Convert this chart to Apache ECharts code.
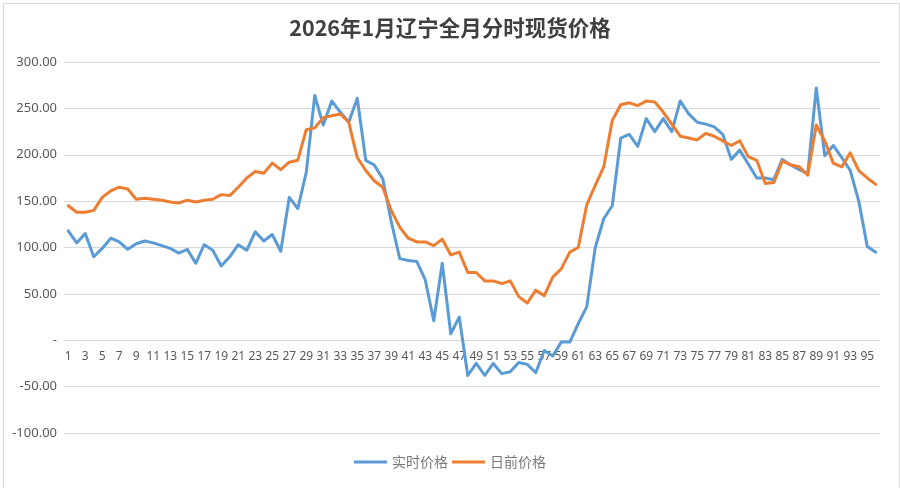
<!DOCTYPE html>
<html>
<head>
<meta charset="utf-8">
<script src="https://cdn.jsdelivr.net/npm/echarts@6/dist/echarts.min.js"></script>
<style>
html,body{margin:0;padding:0;background:#fff;}
#c{width:900px;height:488px;}
</style>
</head>
<body>
<div id="c"></div>
<script>
const titleText = '2026年1月辽宁全月分时现货价格';
const seriesNames = ['实时价格', '日前价格'];
const categories = Array.from({length: 96}, (_, i) => String(i + 1));
const realtimePrice = [
  118, 105, 115, 90, 99, 110, 106, 98, 104, 107,
  105, 102, 99, 94, 98, 83, 103, 97, 80, 90,
  103, 97, 117, 107, 114, 96, 154, 142, 181, 264,
  232, 258, 246, 235, 261, 194, 189, 174, 128, 88,
  86, 85, 65, 21, 83, 7, 25, -38, -25, -38,
  -25, -36, -34, -24, -26, -35, -11, -17, -2, -2,
  18, 36, 100, 131, 145, 218, 222, 209, 239, 225,
  239, 225, 258, 244, 235, 233, 230, 222, 195, 205,
  190, 175, 175, 173, 195, 189, 184, 180, 272, 199,
  210, 197, 183, 150, 101, 95
];
const dayAheadPrice = [
  145, 138, 138, 140, 154, 161, 165, 163, 152, 153,
  152, 151, 149, 148, 151, 149, 151, 152, 157, 156,
  165, 175, 182, 180, 191, 184, 192, 194, 227, 229,
  240, 242, 244, 235, 197, 183, 172, 165, 140, 122,
  110, 106, 106, 102, 109, 92, 95, 73, 73, 64,
  64, 61, 64, 47, 40, 54, 48, 68, 77, 95,
  100, 146, 167, 187, 237, 254, 256, 253, 258, 257,
  246, 233, 220, 218, 216, 223, 220, 215, 210, 215,
  198, 194, 169, 170, 193, 189, 187, 178, 232, 215,
  191, 187, 202, 183, 175, 168
];
const yMin = -100, yMax = 300, yStep = 50;

const gridTop = 62, gridBottom = 55, chartH = 488;
const plotH = chartH - gridTop - gridBottom;
// place the category axis on the zero line (like the reference)
const zeroOffset = -plotH * (0 - yMin) / (yMax - yMin);

const chart = echarts.init(document.getElementById('c'), null, {renderer: 'canvas'});
const fontBase = '"Noto Sans", "Noto Sans CJK SC", sans-serif';
chart.setOption({
  animation: false,
  backgroundColor: '#ffffff',
  graphic: [{
    type: 'rect', left: 1, top: 1,
    shape: {x: 0, y: 0, width: 896, height: 485},
    style: {fill: 'none', stroke: '#d9d9d9', lineWidth: 1},
    silent: true, z: -10
  }],
  title: {
    text: titleText,
    left: 'center',
    top: 12,
    textStyle: {
      fontFamily: '"Noto Sans CJK SC", "Noto Sans", sans-serif',
      fontSize: 21.5,
      fontWeight: 'bold',
      color: '#404040'
    }
  },
  legend: {
    data: seriesNames,
    bottom: 14,
    left: 'center',
    icon: 'rect',
    itemWidth: 33,
    itemHeight: 3,
    itemGap: 4,
    textStyle: {
      fontFamily: '"Noto Sans CJK SC", sans-serif',
      fontSize: 14,
      color: '#7a7a7a'
    }
  },
  grid: {left: 64, right: 20, top: gridTop, bottom: gridBottom, containLabel: false},
  xAxis: {
    type: 'category',
    data: categories,
    boundaryGap: true,
    position: 'bottom',
    offset: zeroOffset,
    axisLine: {show: true, onZero: false, lineStyle: {color: '#d9d9d9', width: 1}},
    axisTick: {show: false},
    axisLabel: {
      interval: 1,
      margin: 10,
      fontFamily: fontBase,
      fontSize: 12,
      color: '#595959'
    },
    splitLine: {show: false}
  },
  yAxis: {
    type: 'value',
    min: yMin,
    max: yMax,
    interval: yStep,
    axisLine: {show: false},
    axisTick: {show: false},
    axisLabel: {
      margin: 7,
      fontFamily: fontBase,
      fontSize: 13,
      color: '#595959',
      formatter: v => (v === 0 ? '-' : v.toFixed(2))
    },
    splitLine: {show: true, lineStyle: {color: '#d9d9d9', width: 1}}
  },
  series: [
    {
      name: seriesNames[0],
      type: 'line',
      data: realtimePrice,
      symbol: 'none',
      color: '#5b9bd5',
      lineStyle: {width: 3, color: '#5b9bd5', join: 'round', cap: 'round'}
    },
    {
      name: seriesNames[1],
      type: 'line',
      data: dayAheadPrice,
      symbol: 'none',
      color: '#ed7d31',
      lineStyle: {width: 3, color: '#ed7d31', join: 'round', cap: 'round'}
    }
  ]
});
</script>
</body>
</html>
